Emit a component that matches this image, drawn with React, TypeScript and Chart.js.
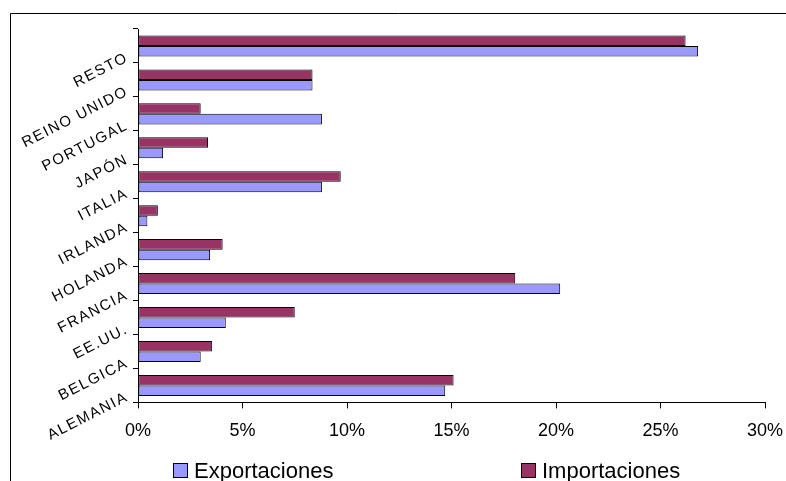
import React, { useEffect, useRef } from "react";
import { Chart, registerables } from "chart.js";

Chart.register(...registerables);

// Categories listed bottom-to-top as they appear on the axis
const paises = [
  "ALEMANIA",
  "BELGICA",
  "EE.UU.",
  "FRANCIA",
  "HOLANDA",
  "IRLANDA",
  "ITALIA",
  "JAPÓN",
  "PORTUGAL",
  "REINO UNIDO",
  "RESTO",
];

// Share of total trade (%)
const exportaciones = [14.7, 3.0, 4.2, 20.2, 3.45, 0.45, 8.8, 1.2, 8.8, 8.35, 26.8];
const importaciones = [15.1, 3.55, 7.5, 18.05, 4.05, 0.95, 9.7, 3.35, 3.0, 8.35, 26.2];

const xTicks = [0, 5, 10, 15, 20, 25, 30];

const FONT = "'Liberation Sans', Arial, sans-serif";
const COLOR_EXP = "#9999FF";
const COLOR_IMP = "#993366";

// Outer frame of the chart object
const framePlugin = {
  id: "frame",
  beforeDraw(chart: any) {
    const ctx = chart.ctx;
    ctx.save();
    ctx.fillStyle = "#ffffff";
    ctx.fillRect(0, 0, chart.width, chart.height);
    ctx.strokeStyle = "#000000";
    ctx.lineWidth = 1;
    ctx.beginPath();
    ctx.moveTo(10.5, chart.height);
    ctx.lineTo(10.5, 13.5);
    ctx.lineTo(chart.width, 13.5);
    ctx.stroke();
    ctx.restore();
  },
};

// Slanted category labels on the left axis
const slantLabelsPlugin = {
  id: "slantLabels",
  afterDraw(chart: any) {
    const ctx = chart.ctx;
    const y = chart.scales.y;
    const x0 = y.right;
    ctx.save();
    ctx.fillStyle = "#000000";
    ctx.font = `15px ${FONT}`;
    (ctx as any).letterSpacing = "1.5px";
    ctx.textAlign = "right";
    ctx.textBaseline = "middle";
    chart.data.labels.forEach((lab: string, i: number) => {
      const py = y.getPixelForValue(i);
      ctx.save();
      ctx.translate(x0 - 11, py + 11);
      ctx.rotate((-27 * Math.PI) / 180);
      ctx.fillText(lab, 0, 0);
      ctx.restore();
    });
    ctx.restore();
  },
};

// Legend row along the bottom edge
const legendPlugin = {
  id: "bottomLegend",
  afterDraw(chart: any) {
    const ctx = chart.ctx;
    const items = [
      { ds: chart.data.datasets[1], x: 173 },
      { ds: chart.data.datasets[0], x: 521 },
    ];
    const cy = 471;
    ctx.save();
    ctx.font = `22px ${FONT}`;
    ctx.textAlign = "left";
    ctx.textBaseline = "middle";
    items.forEach(({ ds, x }) => {
      ctx.fillStyle = ds.backgroundColor;
      ctx.fillRect(x + 0.5, cy - 7.5, 14, 14);
      ctx.strokeStyle = "#000000";
      ctx.lineWidth = 1;
      ctx.strokeRect(x + 0.5, cy - 7.5, 14, 14);
      ctx.fillStyle = "#000000";
      ctx.fillText(ds.label, x + 21, cy + 1);
    });
    ctx.restore();
  },
};

export default function App() {
  const ref = useRef<HTMLCanvasElement | null>(null);

  useEffect(() => {
    if (!ref.current) return;
    const chart = new Chart(ref.current, {
      type: "bar",
      data: {
        labels: paises,
        datasets: [
          {
            label: "Importaciones",
            data: importaciones,
            backgroundColor: COLOR_IMP,
            borderColor: "#000000",
            borderWidth: 1,
            borderSkipped: false,
          },
          {
            label: "Exportaciones",
            data: exportaciones,
            backgroundColor: COLOR_EXP,
            borderColor: "#000000",
            borderWidth: 1,
            borderSkipped: false,
          },
        ],
      },
      options: {
        indexAxis: "y",
        animation: false,
        responsive: false,
        events: [],
        layout: { padding: { left: 133, top: 29, right: 21, bottom: 27 } },
        datasets: {
          bar: { categoryPercentage: 0.62, barPercentage: 1 },
        },
        plugins: {
          legend: { display: false },
          tooltip: { enabled: false },
        },
        scales: {
          x: {
            min: 0,
            max: 30,
            afterBuildTicks(scale: any) {
              scale.ticks = xTicks.map((v) => ({ value: v }));
            },
            afterFit(scale: any) {
              // end labels may overhang the plot edges
              scale.paddingLeft = 0;
              scale.paddingRight = 0;
            },
            grid: {
              drawOnChartArea: false,
              drawTicks: true,
              tickLength: 6,
              color: "#000000",
            },
            border: { display: true, color: "#000000", width: 1 },
            ticks: {
              padding: 12,
              color: "#000000",
              font: { family: FONT, size: 18 },
              maxRotation: 0,
              callback: (v: any) => `${v}%`,
            },
          },
          y: {
            reverse: true,
            grid: {
              drawOnChartArea: false,
              drawTicks: true,
              tickLength: 5,
              color: "#000000",
              offset: true,
            },
            border: { display: true, color: "#000000", width: 1 },
            ticks: { display: false },
          },
        },
      },
      plugins: [framePlugin, slantLabelsPlugin, legendPlugin],
    });
    return () => chart.destroy();
  }, []);

  return (
    <div style={{ position: "absolute", left: 0, top: 0, width: 786, height: 481 }}>
      <canvas ref={ref} width={786} height={481} />
    </div>
  );
}
